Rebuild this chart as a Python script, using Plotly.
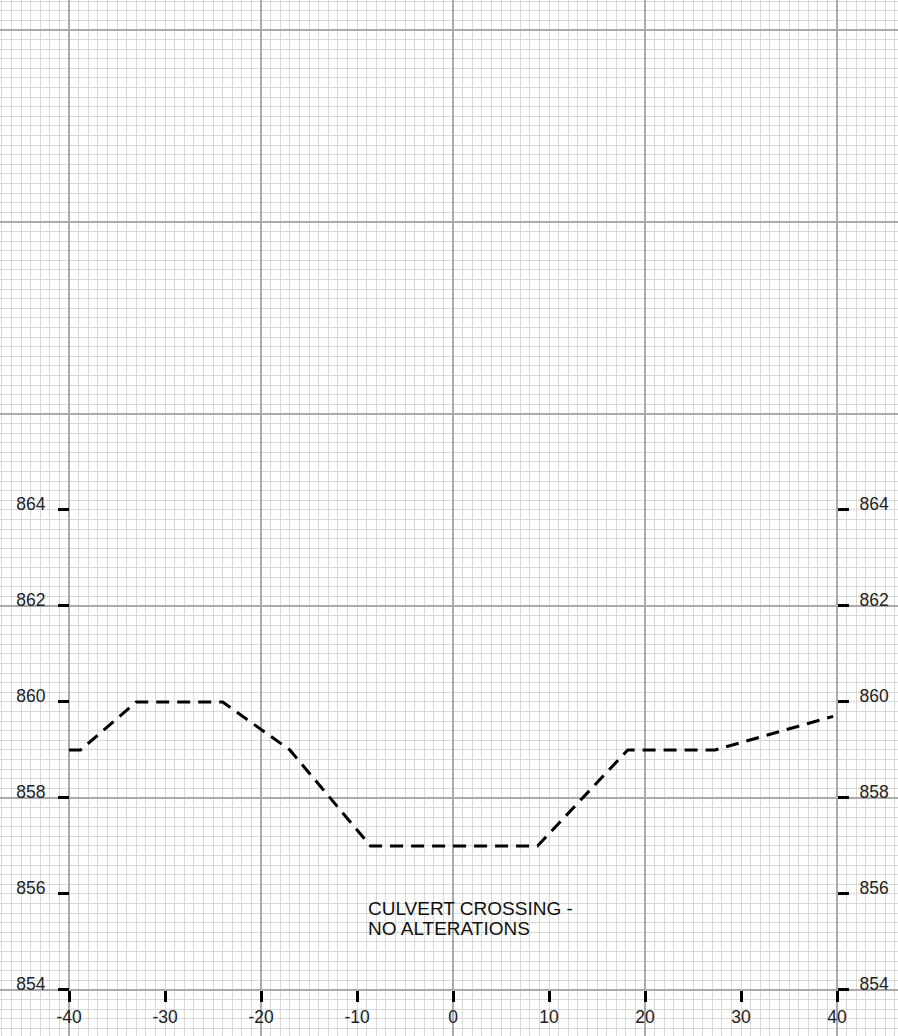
import plotly.graph_objects as go

# Profile data (station vs elevation)
station = [-40, -38.8, -33, -24, -17, -8.6, 8.8, 18.2, 27.3, 39.6]
elevation = [859.0, 859.0, 860.0, 860.0, 859.0, 857.0, 857.0, 859.0, 859.0, 859.7]

x_ticks = [-40, -30, -20, -10, 0, 10, 20, 30, 40]
y_ticks = [854, 856, 858, 860, 862, 864]
note_lines = ["CULVERT CROSSING -", "NO ALTERATIONS"]

W, H = 898, 1036
X_RANGE = [-47.19, 46.35]
Y_RANGE = [853.04, 874.625]

def xfrac(v):
    return (v - X_RANGE[0]) / (X_RANGE[1] - X_RANGE[0])

def yfrac(v):
    return (v - Y_RANGE[0]) / (Y_RANGE[1] - Y_RANGE[0])

fig = go.Figure()

fig.add_trace(go.Scatter(
    x=station, y=elevation, mode="lines",
    line=dict(color="black", width=3, dash="13px,8px"),
    hoverinfo="skip", showlegend=False, xaxis="x", yaxis="y",
))
# invisible traces to host tick axes
fig.add_trace(go.Scatter(x=[x_ticks[0]], y=[y_ticks[0]], mode="markers",
                         marker=dict(opacity=0), showlegend=False,
                         hoverinfo="skip", xaxis="x2", yaxis="y2"))
fig.add_trace(go.Scatter(x=[x_ticks[0]], y=[y_ticks[0]], mode="markers",
                         marker=dict(opacity=0), showlegend=False,
                         hoverinfo="skip", xaxis="x2", yaxis="y3"))

grid_minor = "#d9d9d9"
grid_major = "#ababab"
tick_font = dict(family="Liberation Sans, Arial, sans-serif", size=17.5, color="#222222")

for i, line in enumerate(note_lines):
    fig.add_annotation(
        x=-9.05, y=855.7 - i * 0.42, xref="x", yref="y",
        text=line, showarrow=False, xanchor="left", yanchor="middle",
        font=dict(family="Liberation Sans, Arial, sans-serif", size=19, color="#111111"),
    )

fig.update_layout(
    width=W, height=H,
    margin=dict(l=0, r=0, t=0, b=0, autoexpand=False),
    paper_bgcolor="white", plot_bgcolor="white",
    showlegend=False,
    xaxis=dict(
        range=X_RANGE, showgrid=True, gridcolor=grid_major, gridwidth=2,
        tick0=0, dtick=20, showticklabels=False, ticks="", zeroline=False,
        showline=False,
        minor=dict(showgrid=True, gridcolor=grid_minor, gridwidth=1, tick0=0, dtick=1),
    ),
    yaxis=dict(
        range=Y_RANGE, showgrid=True, gridcolor=grid_major, gridwidth=2,
        tick0=854, dtick=4, showticklabels=False, ticks="", zeroline=False,
        showline=False,
        minor=dict(showgrid=True, gridcolor=grid_minor, gridwidth=1, tick0=854, dtick=0.2),
    ),
    xaxis2=dict(
        range=X_RANGE, overlaying="x", anchor="free", position=yfrac(854),
        side="bottom", tickmode="array", tickvals=x_ticks,
        ticktext=[str(v) for v in x_ticks],
        ticks="outside", ticklen=11, tickwidth=3, tickcolor="black",
        showgrid=False, zeroline=False, showline=False,
        tickfont=tick_font, ticklabelstandoff=0,
    ),
    yaxis2=dict(
        range=Y_RANGE, overlaying="y", anchor="free", position=xfrac(-40),
        side="left", tickmode="array", tickvals=y_ticks,
        ticktext=[str(v) for v in y_ticks],
        ticks="outside", ticklen=11, tickwidth=3, tickcolor="black",
        showgrid=False, zeroline=False, showline=False,
        tickfont=tick_font, ticklabelstandoff=9, ticklabelshift=-6,
    ),
    yaxis3=dict(
        range=Y_RANGE, overlaying="y", anchor="free", position=xfrac(40),
        side="right", tickmode="array", tickvals=y_ticks,
        ticktext=[str(v) for v in y_ticks],
        ticks="outside", ticklen=11, tickwidth=3, tickcolor="black",
        showgrid=False, zeroline=False, showline=False,
        tickfont=tick_font, ticklabelstandoff=7, ticklabelshift=-6,
    ),
)

fig.write_html(
    "out.html",
    config={"displayModeBar": False},
    post_script="document.body.style.margin='0px';document.body.style.overflow='hidden';",
)
